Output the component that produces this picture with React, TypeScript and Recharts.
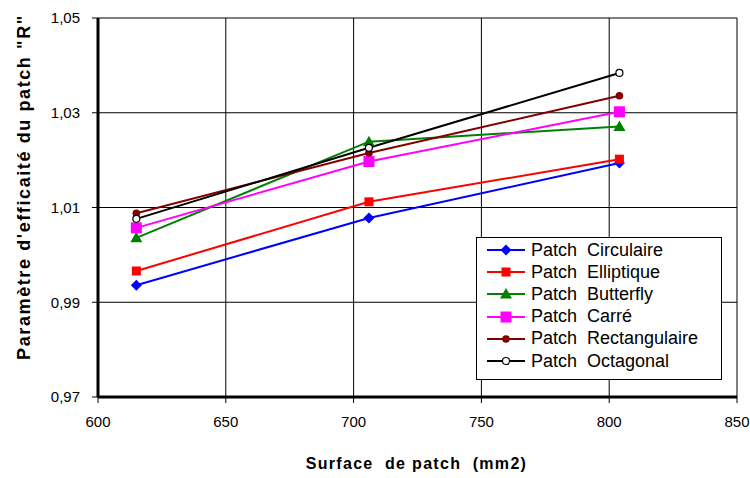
import React from 'react'
import { LineChart, Line, XAxis, YAxis, CartesianGrid, Label } from 'recharts'

// surface (mm2) of each patch size
const surfaces = [615, 706, 804]

const circulaire = [0.9936, 1.0078, 1.0194]
const elliptique = [0.9966, 1.0112, 1.0202]
const butterfly = [1.0036, 1.0239, 1.0271]
const carre = [1.0057, 1.0197, 1.0302]
const rectangulaire = [1.0088, 1.0215, 1.0336]
const octagonal = [1.0076, 1.0226, 1.0384]

const xTicks = [600, 650, 700, 750, 800, 850]
const yTicks = [0.97, 0.99, 1.01, 1.03, 1.05]

type Shape = 'diamond' | 'square' | 'triangle' | 'bigSquare' | 'dot' | 'ring'

const series: { key: string; name: string; values: number[]; color: string; shape: Shape }[] = [
  { key: 'circulaire', name: 'Patch  Circulaire', values: circulaire, color: '#0000FF', shape: 'diamond' },
  { key: 'elliptique', name: 'Patch  Elliptique', values: elliptique, color: '#FF0000', shape: 'square' },
  { key: 'butterfly', name: 'Patch  Butterfly', values: butterfly, color: '#008000', shape: 'triangle' },
  { key: 'carre', name: 'Patch  Carré', values: carre, color: '#FF00FF', shape: 'bigSquare' },
  { key: 'rectangulaire', name: 'Patch  Rectangulaire', values: rectangulaire, color: '#800000', shape: 'dot' },
  { key: 'octagonal', name: 'Patch  Octagonal', values: octagonal, color: '#000000', shape: 'ring' },
]

const data = surfaces.map((s, i) => {
  const row: Record<string, number> = { surface: s }
  series.forEach((sr) => { row[sr.key] = sr.values[i] })
  return row
})

const FONT = '"Liberation Sans", Arial, sans-serif'

function markerShape(shape: Shape, cx: number, cy: number, color: string) {
  switch (shape) {
    case 'diamond':
      return <path d={`M${cx},${cy - 5.5}L${cx + 5.5},${cy}L${cx},${cy + 5.5}L${cx - 5.5},${cy}Z`} fill={color} />
    case 'square':
      return <rect x={cx - 4.5} y={cy - 4.5} width={9} height={9} fill={color} />
    case 'triangle':
      return <path d={`M${cx},${cy - 6}L${cx + 6},${cy + 4.5}L${cx - 6},${cy + 4.5}Z`} fill={color} />
    case 'bigSquare':
      return <rect x={cx - 5.5} y={cy - 5.5} width={11} height={11} fill={color} />
    case 'dot':
      return <circle cx={cx} cy={cy} r={3.8} fill={color} />
    default:
      return <circle cx={cx} cy={cy} r={3.5} fill="#fff" stroke={color} strokeWidth={1.2} />
  }
}

// legend box drawn over the plot, lower right
const LegendBox = () => (
  <div
    style={{
      position: 'absolute',
      left: 476,
      top: 237,
      width: 246,
      height: 143,
      border: '1px solid #000',
      background: '#fff',
      fontFamily: FONT,
      fontSize: 18,
      color: '#000',
      boxSizing: 'border-box',
      paddingTop: 1,
    }}
  >
    {series.map((s) => (
      <div key={s.key} style={{ display: 'flex', alignItems: 'center', height: 22.2 }}>
        <svg width={44} height={16} style={{ marginLeft: 9, marginRight: 1 }}>
          <line x1={1} x2={39} y1={8} y2={8} stroke={s.color} strokeWidth={2} />
          {markerShape(s.shape, 20, 8, s.color)}
        </svg>
        <span style={{ whiteSpace: 'pre' }}>{s.name}</span>
      </div>
    ))}
  </div>
)

export default function App() {
  const tick = { fontFamily: FONT, fontSize: 15, fill: '#000' }
  return (
    <div style={{ position: 'relative', width: 750, height: 478 }}>
      <style>{'body { margin: 0; }'}</style>
      <LineChart width={750} height={478} data={data} margin={{ top: 18, right: 13, left: 0, bottom: 0 }}>
        <CartesianGrid stroke="#000" strokeWidth={1} horizontalValues={yTicks} verticalValues={xTicks} />
        <XAxis
          dataKey="surface"
          type="number"
          domain={[600, 850]}
          ticks={xTicks}
          axisLine={{ stroke: '#000', strokeWidth: 3 }}
          tickLine={{ stroke: '#000' }}
          tickSize={6}
          tickMargin={13}
          tick={tick}
          height={81}
        >
          <Label
            content={(p: any) => (
              <text
                x={p.viewBox.x + p.viewBox.width / 2 - 1}
                y={465}
                textAnchor="middle"
                dominantBaseline="middle"
                style={{ fontFamily: FONT, fontSize: 16, fontWeight: 'bold', whiteSpace: 'pre', letterSpacing: 1.3 }}
              >
                {'Surface  de patch  (mm2)'}
              </text>
            )}
          />
        </XAxis>
        <YAxis
          type="number"
          domain={[0.97, 1.05]}
          ticks={yTicks}
          allowDataOverflow
          axisLine={{ stroke: '#000', strokeWidth: 3 }}
          tickLine={{ stroke: '#000' }}
          tickSize={6}
          tickMargin={12}
          tick={tick}
          tickFormatter={(v: number) => v.toFixed(2).replace('.', ',')}
          width={98}
        >
          <Label
            content={() => (
              <text
                x={25}
                y={187}
                transform="rotate(-90, 25, 187)"
                textAnchor="middle"
                dominantBaseline="middle"
                style={{ fontFamily: FONT, fontSize: 18, fontWeight: 'bold', letterSpacing: 1.6 }}
              >
                Paramètre d'efficaité du patch "R"
              </text>
            )}
          />
        </YAxis>
        {series.map((s) => (
          <Line
            key={s.key}
            dataKey={s.key}
            name={s.name}
            stroke={s.color}
            strokeWidth={2}
            isAnimationActive={false}
            dot={(p: any) => <g key={`${s.key}-${p.index}`}>{markerShape(s.shape, p.cx, p.cy, s.color)}</g>}
            activeDot={false}
          />
        ))}
      </LineChart>
      <LegendBox />
    </div>
  )
}
